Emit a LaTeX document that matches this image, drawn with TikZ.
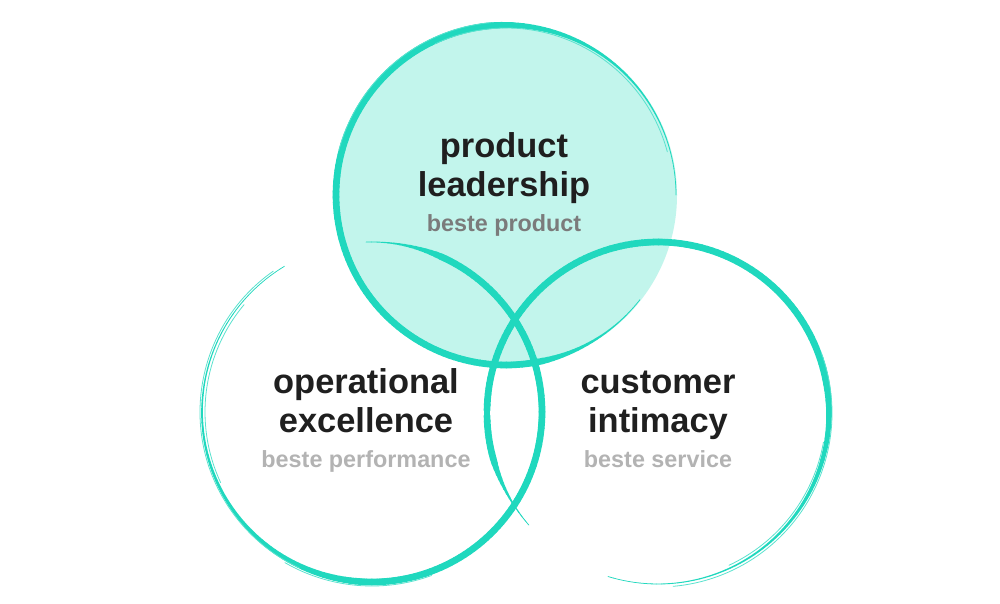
\documentclass[tikz,border=0pt]{standalone}
\usepackage{fontspec}
\setmainfont{Liberation Sans}
\usepackage{xcolor}
\usetikzlibrary{positioning}

\definecolor{teal1}{HTML}{20D8BE}
\definecolor{mint}{HTML}{C2F5EC}
\definecolor{ink}{HTML}{1F1F1F}
\definecolor{subdark}{HTML}{7B7B7B}
\definecolor{sublight}{HTML}{B3B3B3}

\begin{document}
\begin{tikzpicture}[
    x=0.02cm, y=0.02cm,
    brush/.style={draw=teal1, line cap=round},
    hair/.style={draw=teal1!75, line cap=round, line width=0.45pt},
    head/.style={font=\fontsize{19.6}{22}\selectfont\bfseries, text=ink, anchor=base, inner sep=0pt},
    sub/.style={font=\fontsize{13.3}{15}\selectfont\bfseries, anchor=base, inner sep=0pt}
  ]
    \fill[white] (0,0) rectangle (1000,603);
    \useasboundingbox (0,0) rectangle (1000,603);

    \coordinate (ctop) at (506,408);
    \coordinate (cleft) at (372,191);
    \coordinate (cright) at (658,190);

    \fill[mint] (ctop) circle[radius=171];

    % brush rings: centre / radius / start / full from / full to / end
    \foreach \cx/\cy/\r/\s/\a/\b/\e in {506/408/170/0/95/280/322, 372/191/170/121/265/425/452, 658/190/171/253/370/555/581} {
      \foreach \i in {0,...,179} {
        \pgfmathsetmacro\ta{\s+(\e-\s)/180*\i}
        \pgfmathsetmacro\tb{\s+(\e-\s)/180*(\i+1)}
        \pgfmathsetmacro\rr{max(0,min(1,(\ta-\s)/(\a-\s),(\e-\ta)/(\e-\b)))}
        \pgfmathsetmacro\w{0.4+3.4*\rr*\rr}
        \draw[brush, line width=\w pt] (\cx,\cy) ++(\ta:\r) arc[start angle=\ta, end angle=\tb, radius=\r];
      }
    }

    % thin extra hairs
    \draw[hair] (ctop) ++(15:167) arc[start angle=15, end angle=115, radius=167];
    \draw[hair] (ctop) ++(95:173) arc[start angle=95, end angle=165, radius=173];
    \draw[hair] (cleft) ++(125:172) arc[start angle=125, end angle=245, radius=172];
    \draw[hair] (cleft) ++(140:167) arc[start angle=140, end angle=205, radius=167];
    \draw[hair] (cleft) ++(240:174) arc[start angle=240, end angle=290, radius=174];
    \draw[hair] (cright) ++(275:174) arc[start angle=275, end angle=380, radius=174];
    \draw[hair] (cright) ++(295:168) arc[start angle=295, end angle=350, radius=168];

    % labels
    \node[head] (prod1) at (504,446) {product};
    \node[head, below=0.8cm of prod1.base, anchor=base] (prod2) {leadership};
    \node[sub, text=subdark, below=0.7cm of prod2.base, anchor=base] (prodsub) {beste product};

    \node[head] (oper1) at (366,210) {operational};
    \node[head, below=0.8cm of oper1.base, anchor=base] (oper2) {excellence};
    \node[sub, text=sublight, below=0.7cm of oper2.base, anchor=base] (opersub) {beste performance};

    \node[head] (cust1) at (658,210) {customer};
    \node[head, below=0.8cm of cust1.base, anchor=base] (cust2) {intimacy};
    \node[sub, text=sublight, below=0.7cm of cust2.base, anchor=base] (custsub) {beste service};
  \end{tikzpicture}
\end{document}
